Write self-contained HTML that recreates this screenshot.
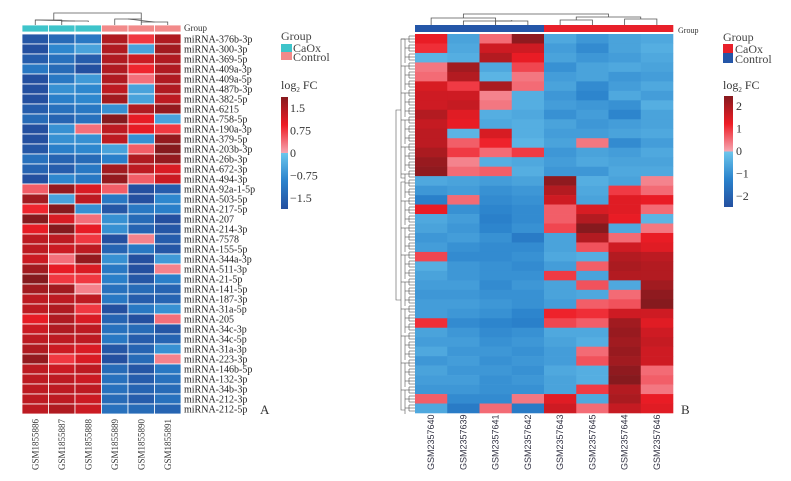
<!DOCTYPE html>
<html><head><meta charset="utf-8"><style>
html,body{margin:0;padding:0;background:#fff;}
svg{display:block;font-family:"Liberation Serif",serif;}
</style></head><body>
<svg id="fig" width="791" height="481" viewBox="0 0 791 481"></svg>
<script>
// ---------- Panel A data ----------
const samplesA = ["GSM1855886","GSM1855887","GSM1855888","GSM1855889","GSM1855890","GSM1855891"];
const groupA = ["CaOx","CaOx","CaOx","Control","Control","Control"];
const genesA = ["miRNA-376b-3p","miRNA-300-3p","miRNA-369-5p","miRNA-409a-3p","miRNA-409a-5p","miRNA-487b-3p","miRNA-382-5p","miRNA-6215","miRNA-758-5p","miRNA-190a-3p","miRNA-379-5p","miRNA-203b-3p","miRNA-26b-3p","miRNA-672-3p","miRNA-494-3p","miRNA-92a-1-5p","miRNA-503-5p","miRNA-217-5p","miRNA-207","miRNA-214-3p","miRNA-7578","miRNA-155-5p","miRNA-344a-3p","miRNA-511-3p","miRNA-21-5p","miRNA-141-5p","miRNA-187-3p","miRNA-31a-5p","miRNA-205","miRNA-34c-3p","miRNA-34c-5p","miRNA-31a-3p","miRNA-223-3p","miRNA-146b-5p","miRNA-132-3p","miRNA-34b-3p","miRNA-212-3p","miRNA-212-5p"];
const valuesA = [
[-1.4,-1.1,-0.9,1.2,0.6,1.2],[-1.5,-0.7,-0.4,1.2,-0.4,1.3],[-1.3,-1.0,-1.3,1.2,1.0,1.2],[-0.9,-1.1,-1.5,1.2,0.7,1.2],
[-1.5,-0.9,-0.5,1.2,0.3,1.2],[-1.5,-0.6,-0.7,1.1,-0.4,1.2],[-1.5,-0.8,-0.7,1.3,-0.4,1.1],[-1.3,-1.0,-0.9,-0.6,1.2,1.4],
[-1.1,-1.2,-1.0,1.6,0.8,-0.4],[-1.5,-0.6,0.3,1.1,0.8,0.6],[-1.5,-0.6,-0.6,1.1,-0.6,1.4],[-1.4,-0.8,-0.7,-0.4,0.4,1.7],
[-1.0,-1.2,-1.1,-0.8,1.2,1.4],[-1.2,-1.3,-0.9,1.3,1.1,0.9],[-1.5,-0.7,-0.9,1.4,0.4,1.0],[0.4,1.4,0.9,0.4,-1.5,-1.3],
[1.3,-0.4,1.1,-0.9,-1.5,-0.7],[0.7,1.7,-0.6,-1.4,-0.9,-0.8],[1.6,0.9,0.3,-0.6,-1.1,-1.5],[0.8,1.6,0.8,-0.6,-1.2,-1.4],
[1.1,1.1,0.6,-1.5,0.2,-1.3],[1.1,1.0,1.1,-1.2,-0.9,-1.4],[1.0,0.3,1.4,-0.6,-1.5,-0.5],[1.3,0.8,0.9,-0.9,-1.6,0.2],
[1.7,0.6,0.6,-0.8,-1.4,-0.8],[1.3,1.3,0.2,-1.0,-1.1,-1.2],[1.1,1.1,1.1,-0.9,-1.3,-1.2],[1.1,1.2,0.6,-1.5,-0.9,-0.6],
[0.8,1.2,0.9,-1.2,-1.5,0.3],[1.0,1.2,1.1,-1.0,-1.1,-1.4],[1.1,1.1,1.1,-0.9,-1.3,-1.2],[1.2,1.0,0.9,-1.4,-1.2,-0.6],
[1.4,0.6,0.9,-1.5,-1.1,0.2],[1.1,1.0,1.1,-1.1,-1.4,-0.9],[1.1,1.1,1.0,-1.0,-1.3,-1.0],[1.1,1.1,1.1,-1.0,-1.2,-1.1],
[1.1,1.1,1.0,-1.1,-1.3,-1.0],[1.1,1.2,1.0,-1.0,-1.1,-1.2]];
const ticksA = [1.5,0.75,0,-0.75,-1.5];
const tickLabelsA = ["1.5","0.75","0","\u22120.75","\u22121.5"];
// ---------- Panel B data ----------
const samplesB = ["GSM2357640","GSM2357639","GSM2357641","GSM2357642","GSM2357643","GSM2357645","GSM2357644","GSM2357646"];
const groupB = ["Control","Control","Control","Control","CaOx","CaOx","CaOx","CaOx"];
const valuesB = [
[1.2,-0.6,0.5,2.2,-0.5,-0.8,-0.6,-0.5],[1.0,-0.5,1.5,1.5,-0.7,-1.0,-0.6,-0.4],[-0.3,-0.4,1.8,1.2,-0.6,-0.8,-0.7,-0.5],
[0.4,2.0,-0.5,0.8,-0.9,-0.6,-0.5,-0.6],[0.5,1.8,-0.3,0.4,-0.7,-0.6,-0.8,-0.7],[1.4,0.9,1.9,0.5,-0.6,-1.0,-0.7,-0.5],
[1.5,1.5,0.3,-0.4,-0.8,-1.1,-0.5,-0.7],[1.5,1.6,0.4,-0.4,-0.7,-0.8,-0.9,-0.4],[1.8,1.3,-0.4,-0.5,-0.9,-0.7,-1.1,-0.6],
[1.6,1.2,-0.5,-0.4,-0.6,-0.8,-0.7,-0.6],[1.7,-0.3,1.4,-0.4,-0.7,-0.7,-0.6,-0.5],[1.7,0.6,1.1,-0.3,-0.6,0.4,-1.0,-0.7],
[1.9,0.9,0.5,0.9,-0.8,-0.6,-0.7,-0.5],[2.1,0.3,-0.4,-0.5,-0.7,-0.5,-0.6,-0.6],[2.2,0.5,0.6,-0.4,-0.8,-0.8,-0.5,-0.5],
[-0.5,-0.6,-0.7,-0.6,2.2,-0.4,-0.6,0.3],[-0.8,-0.7,-0.9,-0.8,1.8,-0.5,0.9,0.5],[-1.2,0.5,-1.0,-0.9,1.5,-0.6,1.3,1.2],
[1.2,-0.9,-1.1,-1.0,0.6,1.4,1.3,0.5],[-0.5,-0.7,-1.2,-1.0,0.6,1.8,1.2,-0.3],[-0.6,-0.8,-1.1,-0.9,0.8,2.3,-0.5,0.4],
[-0.8,-0.7,-0.9,-1.3,-0.6,1.8,0.5,1.2],[-0.7,-0.9,-1.0,-1.0,-0.6,0.7,1.5,1.3],[0.8,-1.0,-1.0,-0.9,-0.5,-0.4,1.8,1.7],
[-0.4,-0.8,-0.9,-1.0,-0.7,0.6,1.9,1.8],[-0.6,-0.8,-0.9,-0.9,0.9,-0.6,1.8,1.8],[-0.7,-0.7,-1.0,-0.8,-0.6,0.7,-0.5,2.0],
[-0.8,-0.8,-0.9,-0.9,-0.6,-0.5,0.5,2.2],[-0.7,-0.7,-0.8,-0.9,-0.7,0.6,0.7,2.3],[-0.7,-0.8,-0.9,-1.1,1.1,1.0,1.5,1.5],
[1.0,-1.0,-1.1,-1.2,0.8,0.6,2.0,1.3],[-0.6,-0.8,-1.0,-0.9,-0.5,-0.5,2.1,1.5],[-0.7,-0.7,-0.9,-0.8,-0.6,-0.4,2.0,1.6],
[-0.5,-0.8,-0.8,-0.9,-0.7,0.5,2.1,1.5],[-0.8,-0.7,-0.9,-0.8,-0.7,0.7,2.0,1.5],[-0.6,-0.8,-0.8,-0.9,-0.5,-0.4,2.2,0.5],
[-0.7,-0.7,-0.9,-0.8,-0.6,-0.4,2.3,0.6],[-0.8,-0.8,-0.9,-0.9,-0.6,0.9,1.8,0.4],[0.6,-1.0,-1.0,0.4,1.3,-0.5,1.9,1.2],
[-0.5,-1.3,0.5,-1.3,1.5,0.5,1.6,1.3]];
const ticksB = [2,1,0,-1,-2];
const tickLabelsB = ["2","1","0","\u22121","\u22122"];

const NS="http://www.w3.org/2000/svg";
const svg=document.getElementById('fig');
function mk(tag,attrs,parent,text){const e=document.createElementNS(NS,tag);for(const k in attrs)e.setAttribute(k,attrs[k]);if(text!==undefined)e.textContent=text;(parent||svg).appendChild(e);return e;}
function hex(c){return [parseInt(c.slice(1,3),16),parseInt(c.slice(3,5),16),parseInt(c.slice(5,7),16)];}
function lerp(a,b,t){const A=hex(a),B=hex(b);return 'rgb('+A.map((v,i)=>Math.round(v+(B[i]-v)*t)).join(',')+')';}
function colorFor(v,max){let t=Math.max(-1,Math.min(1,v/max));
 if(t<=0){t=-t; if(t<0.5) return lerp('#6cc6ec','#2a82cc',t/0.5); return lerp('#2a82cc','#2450a0',(t-0.5)/0.5);}
 if(t<0.5) return lerp('#f6a7b2','#ee1c25',t/0.5); return lerp('#ee1c25','#861a1e',(t-0.5)/0.5);}
function grad(id,parent){const g=mk('linearGradient',{id:id,x1:0,y1:0,x2:0,y2:1},parent);
 const st=[['0','#861a1e'],['0.25','#ee1c25'],['0.499','#f6a7b2'],['0.501','#6cc6ec'],['0.75','#2a82cc'],['1','#2450a0']];
 st.forEach(s=>mk('stop',{offset:s[0],'stop-color':s[1]},g));}
const defs=mk('defs',{});grad('gA',defs);grad('gB',defs);

// ---------- Panel A ----------
const A={x0:22,x1:181,y0:34,y1:414,max:1.5};
const gA=mk('g',{});


const cwA=(A.x1-A.x0)/samplesA.length, rhA=(A.y1-A.y0)/genesA.length;
const xA=i=>A.x0+i*cwA, yA=r=>A.y0+r*rhA;
valuesA.forEach((row,r)=>row.forEach((v,c)=>{
 const el=mk('rect',{x:xA(c),y:yA(r),width:cwA,height:rhA,fill:colorFor(v,A.max),stroke:'#fff','stroke-width':0.8},gA);
 
 
}));
groupA.forEach((g,c)=>{const el=mk('rect',{x:xA(c),y:25,width:cwA,height:7,fill:g==='CaOx'?'#3ec4ca':'#f28a8a',stroke:'#fff','stroke-width':0.8},gA);
 
 });
let t=mk('text',{x:184,y:31,'font-size':9,fill:'#333'},gA,'Group');


genesA.forEach((n,r)=>{const el=mk('text',{x:184,y:yA(r)+rhA-1.5,'font-size':10,fill:'#222'},gA,n);
 
 });
samplesA.forEach((n,c)=>{const cx=xA(c)+cwA/2+3;const el=mk('text',{x:cx,y:470,'font-size':9,fill:'#333',transform:`rotate(-90 ${cx} 470)`},gA,n);
 
 });
const dA=mk('g',{stroke:'#555','stroke-width':0.8,fill:'none'},gA);


[[xA(0.5),25,20,xA(1.5),20,25],[xA(1.5),22,21,xA(2.5),21,22],[xA(0.5),20,20,xA(2),21,21],[xA(3.5),25,19,xA(4.5),19,25],[xA(4.5),22,22,xA(5.5),22,25],[xA(4),19,19,xA(5),22,22],[xA(1.2),20,13,xA(4.5),13,19]]
.forEach(p=>mk('polyline',{points:`${p[0]},${p[1]} ${p[0]},${p[2]} ${p[3]},${p[4]} ${p[3]},${p[5]}`},dA));
const lA=mk('g',{},gA);


mk('text',{x:281,y:40,'font-size':12,fill:'#444'},lA,'Group');
mk('rect',{x:281,y:44,width:11,height:8,fill:'#3ec4ca'},lA);
mk('text',{x:293,y:52,'font-size':12,fill:'#444'},lA,'CaOx');
mk('rect',{x:281,y:52,width:11,height:8,fill:'#f28a8a'},lA);
mk('text',{x:293,y:61,'font-size':12,fill:'#444'},lA,'Control');
const lgA=mk('text',{x:281,y:89,'font-size':12,fill:'#333'},lA,'log');
mk('tspan',{'font-size':7,dy:3},lgA,'2');mk('tspan',{dy:-3},lgA,' FC');
mk('rect',{x:281,y:97,width:7,height:112,fill:'url(#gA)'},lA);
const cbA=v=>153-v*30;
ticksA.forEach((v,i)=>{const el=mk('text',{x:290,y:cbA(v)+4,'font-size':12,fill:'#333'},lA,tickLabelsA[i]);
 
 });
mk('text',{x:260,y:414,'font-size':13,fill:'#333'},gA,'A');

// ---------- Panel B ----------
const B={x0:415,x1:673,y0:34,y1:413,max:2.3};
const gB=mk('g',{});


const cwB=(B.x1-B.x0)/samplesB.length, rhB=(B.y1-B.y0)/valuesB.length;
const xB=i=>B.x0+i*cwB, yB=r=>B.y0+r*rhB;
valuesB.forEach((row,r)=>row.forEach((v,c)=>{
 const el=mk('rect',{x:xB(c),y:yB(r),width:cwB+0.3,height:rhB+0.3,fill:colorFor(v,B.max)},gB);
 
 
}));
groupB.forEach((g,c)=>{const el=mk('rect',{x:xB(c),y:25,width:cwB+0.3,height:7,fill:g==='CaOx'?'#e8202a':'#2456a8'},gB);
 
 });
t=mk('text',{x:678,y:33,'font-size':8,fill:'#333'},gB,'Group');


samplesB.forEach((n,c)=>{const cx=xB(c)+cwB/2+3;const el=mk('text',{x:cx,y:470,'font-size':9,fill:'#334','font-family':'Liberation Sans, sans-serif',transform:`rotate(-90 ${cx} 470)`},gB,n);
 
 });
const dB=mk('g',{stroke:'#555','stroke-width':0.8,fill:'none'},gB);


[[xB(0.5),25,18,xB(2.5),18,25],[xB(1.5),25,21,xB(3),21,20],[xB(2.5),25,21,xB(3.5),21,25],[xB(4.5),25,20,xB(5.5),20,25],[xB(5),20,17,xB(7),17,19],[xB(6.5),25,19,xB(7.5),19,25],[xB(1.5),18,14,xB(6),14,17]]
.forEach(p=>mk('polyline',{points:`${p[0]},${p[1]} ${p[0]},${p[2]} ${p[3]},${p[4]} ${p[3]},${p[5]}`},dB));
const rdB=mk('g',{stroke:'#555','stroke-width':0.6,fill:'none'},gB);


for(let y=36;y<413;y+=3){mk('line',{x1:409,y1:y,x2:415,y2:y},rdB);}
for(let y=36;y<410;y+=9){mk('line',{x1:409,y1:y,x2:409,y2:y+6},rdB);mk('line',{x1:405,y1:y+3,x2:409,y2:y+3},rdB);}
mk('polyline',{points:'405,39 401,39 401,178 405,178'},rdB);
mk('polyline',{points:'405,182 401,182 401,410 405,410'},rdB);
mk('polyline',{points:'401,110 396,110 396,300 401,300'},rdB);
for(let y=39;y<410;y+=27){mk('line',{x1:401,y1:y,x2:405,y2:y},rdB);mk('line',{x1:405,y1:y,x2:405,y2:y+24},rdB);}
const lB=mk('g',{},gB);


mk('text',{x:723,y:41,'font-size':12,fill:'#444'},lB,'Group');
mk('rect',{x:723,y:44,width:10,height:9,fill:'#e8202a'},lB);
mk('text',{x:735,y:53,'font-size':12,fill:'#444'},lB,'CaOx');
mk('rect',{x:723,y:53,width:10,height:10,fill:'#2456a8'},lB);
mk('text',{x:735,y:63,'font-size':12,fill:'#444'},lB,'Control');
const lgB=mk('text',{x:723,y:89,'font-size':12,fill:'#333'},lB,'log');
mk('tspan',{'font-size':7,dy:3},lgB,'2');mk('tspan',{dy:-3},lgB,' FC');
mk('rect',{x:724,y:96,width:9,height:111,fill:'url(#gB)'},lB);
const cbB=v=>151-v*22.5;
ticksB.forEach((v,i)=>{const el=mk('text',{x:736,y:cbB(v)+4,'font-size':12,fill:'#333'},lB,tickLabelsB[i]);
 
 });
mk('text',{x:681,y:414,'font-size':13,fill:'#333'},gB,'B');
</script>
</body></html>
